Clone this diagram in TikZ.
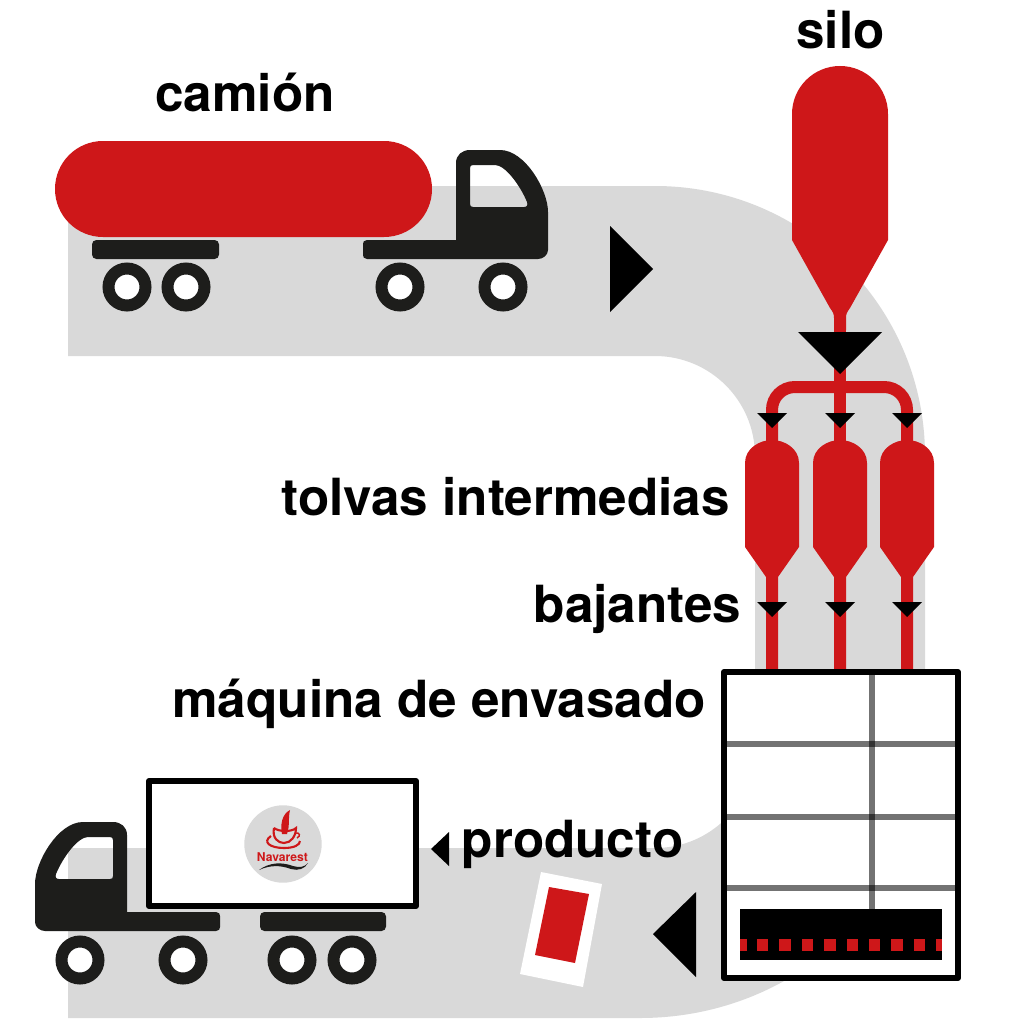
\documentclass[tikz,border=0pt]{standalone}
\usepackage{fontspec}
\setmainfont{TeX Gyre Heros}
\definecolor{bandgray}{HTML}{D9D9D9}
\definecolor{prodred}{HTML}{CE1719}
\definecolor{truckblack}{HTML}{1D1D1B}
\tikzset{
  band/.style={fill=bandgray,draw=none},
  redshape/.style={fill=prodred,draw=none},
  redpipe/.style={draw=prodred,line width=12*0.569pt},
  arrowmark/.style={fill=black,draw=none},
  truckbody/.style={fill=truckblack,draw=none,even odd rule},
  wheelring/.style={circle,draw=truckblack,fill=white,line width=12*0.569pt,minimum size=37*0.569pt,inner sep=0pt},
  label/.style={anchor=base west,inner sep=0pt,font=\fontsize{29.15}{32}\selectfont\bfseries,text=black},
  gridline/.style={draw=black,draw opacity=0.55,line width=5.5*0.569pt},
  framebox/.style={draw=black,line width=6.2*0.569pt,line join=round,fill=white}
}
\newcommand{\cabshape}{%
  \path[truckbody] (367,240) -- (456,240) -- (456,163) .. controls (456,155) and (462,150) .. (470,150)
    -- (500,150) .. controls (525,150) and (548,190) .. (548,212) -- (548,250)
    .. controls (548,255) and (543,259) .. (538,259) -- (367,259)
    .. controls (364,259) and (363,257) .. (363,255) -- (363,244) .. controls (363,242) and (364,240) .. (367,240) -- cycle
    (473,165) -- (495,165) .. controls (505,165) and (520,185) .. (527,202)
    .. controls (528,205) and (527,207) .. (524,207) -- (473,207)
    .. controls (471,207) and (470,206) .. (470,204) -- (470,168)
    .. controls (470,166) and (471,165) .. (473,165) -- cycle;}
\begin{document}
\begin{tikzpicture}[x=0.02cm,y=0.02cm,yscale=-1]
\useasboundingbox[fill=white] (0,0) rectangle (1024,1024);
% conveyor band
\fill[band] (68,186) -- (655,186) arc (-90:0:270) -- (925,748) arc (0:90:285 and 270) -- (68,1018) -- (68,848) -- (655,848)
  arc (90:0:100) -- (755,456) arc (0:-90:100) -- (68,356) -- cycle;
% top truck
\fill[redshape,rounded corners=48*0.569pt] (55,141) rectangle (432,237);
\fill[truckblack,rounded corners=2.5pt] (92,240) rectangle (219,259);
\cabshape
\node[wheelring] (w1) at (127,287) {};
\node[wheelring] (w2) at (186,287) {};
\node[wheelring] (w3) at (400,287) {};
\node[wheelring] (w4) at (503,287) {};
% top arrow
\fill[arrowmark] (610,226) -- (653,269) -- (610,312) -- cycle;
% silo
\fill[redshape] (792,114) arc (180:360:48) -- (888,240) -- (850,308) .. controls (847,312) and (846,314) .. (846,318) -- (846,330) -- (834,330) -- (834,318) .. controls (834,314) and (833,312) .. (830,308) -- (792,240) -- cycle;
% pipes
\draw[redpipe] (840,320) -- (840,445);
\draw[redpipe,rounded corners=13pt] (772,445) -- (772,387) -- (907,387) -- (907,445);
% hoppers
\foreach \cx in {772,840,907}{
  \fill[redshape] (\cx-27,463) .. controls (\cx-27,448) and (\cx-12,440) .. (\cx,440)
    .. controls (\cx+12,440) and (\cx+27,448) .. (\cx+27,463)
    -- (\cx+27,547) -- (\cx+6,577) -- (\cx+6,672) -- (\cx-6,672) -- (\cx-6,577) -- (\cx-27,547) -- cycle;
  \fill[arrowmark] (\cx-15,413) -- (\cx+15,413) -- (\cx,428) -- cycle;
  \fill[arrowmark] (\cx-15,602) -- (\cx+15,602) -- (\cx,617) -- cycle;
}
\fill[arrowmark] (798,332) -- (882,332) -- (840,374) -- cycle;
% machine
\draw[framebox] (724,672) rectangle (958,978);
\foreach \yy in {744,817,888}{\draw[gridline] (727,\yy) -- (955,\yy);}
\draw[gridline] (872,675) -- (872,910);
\fill[black] (740,909) rectangle (942,960);
\fill[prodred] (740,939) rectangle (747,951);
\foreach \xx in {757,779.4,801.8,824.2,846.6,869,891.4,913.8}{\fill[prodred] (\xx,939) rectangle (\xx+11.3,951);}
\fill[prodred] (936,939) rectangle (942,951);
% product
\fill[white] (541,872) -- (602,884) -- (583,987) -- (520,974) -- cycle;
\fill[prodred] (549,887) -- (589,894) -- (575,963) -- (535,955) -- cycle;
\fill[arrowmark] (696,892) -- (653,934) -- (696,977) -- cycle;
\fill[arrowmark] (449,832) -- (431,849) -- (449,866) -- cycle;
% bottom truck
\fill[truckblack,rounded corners=2.5pt] (260,912) rectangle (386,931);
\begin{scope}[shift={(583,672)},xscale=-1]
\cabshape
\end{scope}
\node[wheelring] (w5) at (80,960) {};
\node[wheelring] (w6) at (183,960) {};
\node[wheelring] (w7) at (292,960) {};
\node[wheelring] (w8) at (352,960) {};
\draw[framebox] (149,781) rectangle (416,906);
% logo
\fill[bandgray] (283,844) circle (38.7);
\fill[prodred] (282,834) .. controls (280,825) and (282,814) .. (290,810) .. controls (288,818) and (290,826) .. (287,834) -- cycle;
\draw[prodred,line width=1.2pt] (274,828) .. controls (272,838) and (278,843) .. (284,843) .. controls (291,843) and (296,836) .. (296,828) .. controls (292,832) and (279,832) .. (274,828);
\draw[prodred,line width=1.2pt] (271,836) .. controls (262,842) and (270,848) .. (284,848) .. controls (294,848) and (300,845) .. (300,841);
\draw[prodred,line width=0.8pt] (295,833) .. controls (300,832) and (301,836) .. (297,838);
\node[anchor=base,inner sep=0pt,text=prodred,font=\fontsize{6.9}{8}\selectfont\bfseries] (logotext) at (282.5,861) {Navarest};
\fill[truckblack] (259,870) .. controls (270,862) and (282,862) .. (293,866) .. controls (299,868) and (305,867) .. (308,863) .. controls (305,869) and (298,871) .. (291,869) .. controls (280,865) and (270,865) .. (259,870) -- cycle;
% labels
\node[label] (silo) at (796,49) {silo};
\node[label] (camion) at (155,112) {camión};
\node[label] (tolvas) at (281.5,515) {tolvas intermedias};
\node[label] (bajantes) at (533.5,622) {bajantes};
\node[label] (maquina) at (172,717) {máquina de envasado};
\node[label] (producto) at (461.5,857) {producto};
\end{tikzpicture}
\end{document}
